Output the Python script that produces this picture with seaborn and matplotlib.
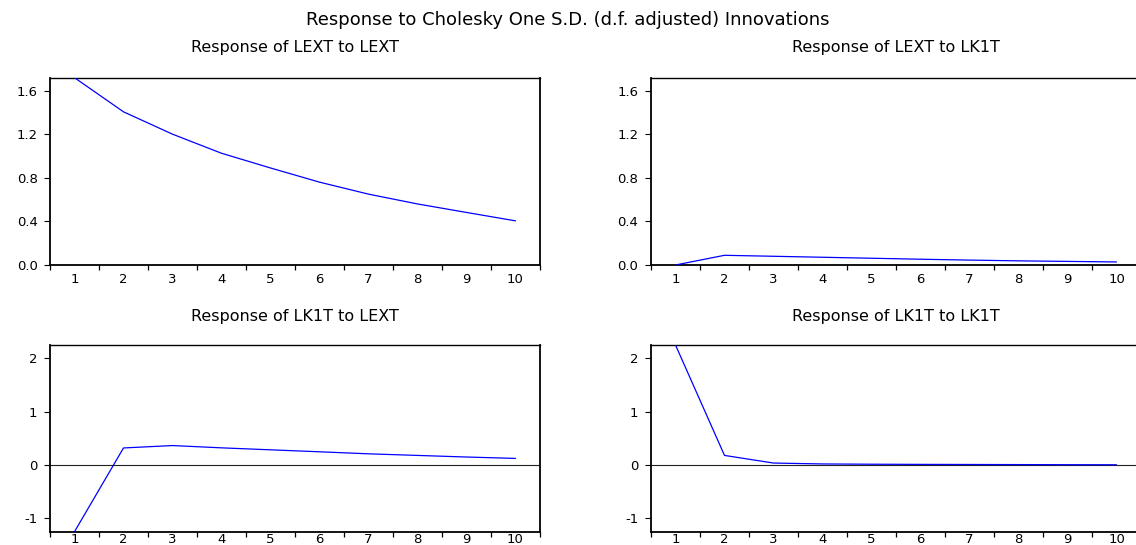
import numpy as np
import pandas as pd
import matplotlib
matplotlib.use("Agg")
import matplotlib.pyplot as plt
import seaborn as sns

# Impulse responses over 10 periods (Cholesky one S.D., d.f. adjusted)
periods = list(range(1, 11))
lext_to_lext = [1.718, 1.405, 1.200, 1.025, 0.890, 0.760, 0.650, 0.560, 0.482, 0.405]
lext_to_lk1t = [0.000, 0.089, 0.080, 0.071, 0.062, 0.053, 0.045, 0.038, 0.033, 0.028]
lk1t_to_lext = [-1.250, 0.320, 0.365, 0.322, 0.285, 0.248, 0.210, 0.180, 0.150, 0.124]
lk1t_to_lk1t = [2.250, 0.180, 0.037, 0.020, 0.015, 0.012, 0.010, 0.008, 0.006, 0.005]

panel_titles = ["Response of LEXT to LEXT", "Response of LEXT to LK1T",
                "Response of LK1T to LEXT", "Response of LK1T to LK1T"]
main_title = "Response to Cholesky One S.D. (d.f. adjusted) Innovations"

top_ticks = [0.0, 0.4, 0.8, 1.2, 1.6]
top_ticklabels = ["0.0", "0.4", "0.8", "1.2", "1.6"]
bottom_ticks = [-1, 0, 1, 2]
bottom_ticklabels = ["-1", "0", "1", "2"]

sns.set_theme(style="ticks")
plt.rcParams["font.family"] = ["DejaVu Sans"]

W, H = 1136, 545
fig = plt.figure(figsize=(W / 100, H / 100), dpi=100)
fig.patch.set_facecolor("white")

def px_axes(x0, x1, ytop, ybot):
    return fig.add_axes([x0 / W, 1 - ybot / H, (x1 - x0) / W, (ybot - ytop) / H])

panels = [
    (lext_to_lext, px_axes(50, 540, 77.7, 265), (0.0, 1.718), top_ticks, top_ticklabels, False),
    (lext_to_lk1t, px_axes(651, 1141, 77.7, 265), (0.0, 1.718), top_ticks, top_ticklabels, False),
    (lk1t_to_lext, px_axes(50, 540, 345, 531.7), (-1.25, 2.25), bottom_ticks, bottom_ticklabels, True),
    (lk1t_to_lk1t, px_axes(651, 1141, 345, 531.7), (-1.25, 2.25), bottom_ticks, bottom_ticklabels, True),
]

for (values, ax, ylim, yt, ytl, lower_row), title in zip(panels, panel_titles):
    df = pd.DataFrame({"period": periods, "response": values})
    if lower_row:
        ax.axhline(0, color="#222222", lw=0.8, zorder=1)
    sns.lineplot(data=df, x="period", y="response", ax=ax, color="#0000ff",
                 lw=0.9, zorder=3)
    ax.set_xlim(0.5, 10.5)
    ax.set_ylim(*ylim)
    ax.set_xlabel("")
    ax.set_ylabel("")
    # integer labels without marks, marks between periods
    ax.set_xticks(periods)
    ax.set_xticklabels([str(p) for p in periods])
    ax.set_xticks(np.arange(0.5, 11.0, 1.0), minor=True)
    ax.tick_params(axis="x", which="major", length=0,
                   pad=1.2 if lower_row else 5.5, labelsize=9.5, colors="black")
    ax.tick_params(axis="x", which="minor", length=3.8, width=0.9, direction="out", color="black")
    ax.set_yticks(yt)
    ax.set_yticklabels(ytl)
    ax.tick_params(axis="y", which="major", length=4.5, width=0.8, pad=4.5, labelsize=9.5,
                   colors="black")
    ax.tick_params(axis="y", which="minor", length=0)
    for side in ["left", "bottom", "top", "right"]:
        ax.spines[side].set_visible(True)
        ax.spines[side].set_color("black")
    ax.spines["left"].set_linewidth(1.3)
    ax.spines["bottom"].set_linewidth(1.3)
    ax.spines["top"].set_linewidth(1.0)
    ax.spines["right"].set_linewidth(1.3)
    ax.grid(False)
    ax.set_facecolor("white")

fig.text(568 / W, 1 - 20 / H, main_title, ha="center", va="center", fontsize=13, color="black")
centers = [(295, 47), (896, 47), (295, 317), (896, 317)]
for (cx, cy), t in zip(centers, panel_titles):
    fig.text(cx / W, 1 - cy / H, t, ha="center", va="center", fontsize=11.5, color="black")

fig.savefig("out.png", dpi=100, facecolor="white")
